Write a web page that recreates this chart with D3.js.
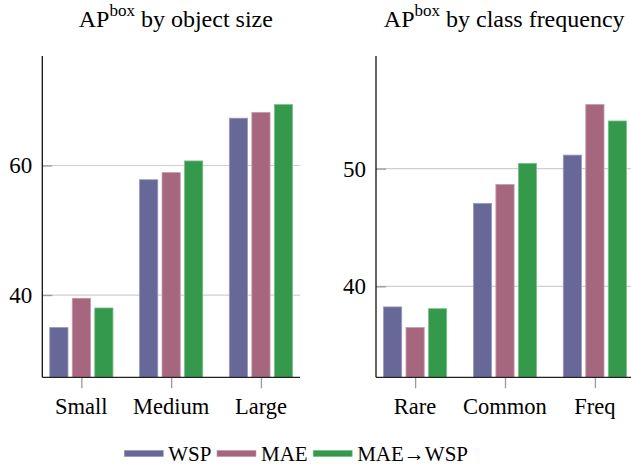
<!DOCTYPE html>
<html>
<head>
<meta charset="utf-8">
<script src="https://cdn.jsdelivr.net/npm/d3@7"></script>
<style>
  html, body { margin: 0; padding: 0; background: #fff; }
  svg { display: block; }
</style>
</head>
<body>
<script>
// ---- data ----
const seriesNames = ["WSP", "MAE", "MAE\u2192WSP"];
const seriesColors = ["#676798", "#a6677e", "#34994b"];
const seriesStroke = ["#9a9ac0", "#c89aab", "#7cc08d"];

const sizeCategories = ["Small", "Medium", "Large"];
const sizeWSP = [35.0, 57.8, 67.3];
const sizeMAE = [39.5, 58.9, 68.2];
const sizeMAE2WSP = [38.0, 60.7, 69.4];
const sizeTicks = [40, 60];

const freqCategories = ["Rare", "Common", "Freq"];
const freqWSP = [38.25, 47.05, 51.15];
const freqMAE = [36.5, 48.65, 55.45];
const freqMAE2WSP = [38.1, 50.45, 54.05];
const freqTicks = [40, 50];

const FONT = '"Liberation Serif"';
const W = 631, H = 466;
const svg = d3.select("body").append("svg").attr("width", W).attr("height", H);

function panel(opts) {
  const { left, right, top, bottom, yDomain, cats, values, ticks, titleX, subtitle } = opts;
  const g = svg.append("g");
  const x = d3.scalePoint().domain(cats).range([left, right]).padding(0.435);
  const inner = d3.scaleBand().domain(d3.range(seriesNames.length))
    .range([-31.6, 31.6]).paddingInner(0.19).paddingOuter(0);
  const y = d3.scaleLinear().domain(yDomain).range([bottom, top]);

  // grid
  g.append("g").selectAll("line").data(ticks).join("line")
    .attr("x1", left).attr("x2", right)
    .attr("y1", d => y(d)).attr("y2", d => y(d))
    .attr("stroke", "#cfcfcf").attr("stroke-width", 1.2);

  // y ticks (inside)
  const yAxis = d3.axisRight(y).tickValues(ticks).tickSize(10).tickFormat("");
  const ya = g.append("g").attr("transform", `translate(${left},0)`).call(yAxis);
  ya.select(".domain").remove();
  ya.selectAll(".tick line").attr("stroke", "#9a9a9a").attr("stroke-width", 1.3);

  // y labels
  g.append("g").selectAll("text").data(ticks).join("text")
    .attr("x", left - 10).attr("y", d => y(d) + 8)
    .attr("text-anchor", "end").style("font-size", "23px")
    .style("font-family", FONT)
    .text(d => d);

  // bars
  cats.forEach((c, ci) => {
    values.forEach((arr, si) => {
      const x0 = x(c) + inner(si);
      g.append("rect")
        .attr("x", x0).attr("width", inner.bandwidth())
        .attr("y", y(arr[ci])).attr("height", bottom - y(arr[ci]))
        .attr("fill", seriesColors[si])
        .attr("stroke", seriesStroke[si]).attr("stroke-width", 0.8);
    });
  });

  // x axis
  const xAxis = d3.axisBottom(x).tickSize(11).tickSizeOuter(0).tickFormat("");
  const xa = g.append("g").attr("transform", `translate(0,${bottom})`).call(xAxis);
  xa.select(".domain").remove();
  xa.selectAll(".tick line").attr("stroke", "#9a9a9a").attr("stroke-width", 1.3);
  g.append("line").attr("x1", left).attr("x2", right).attr("y1", bottom).attr("y2", bottom)
    .attr("stroke", "#222").attr("stroke-width", 1.3);
  g.append("line").attr("x1", left).attr("x2", left).attr("y1", top).attr("y2", bottom)
    .attr("stroke", "#111").attr("stroke-width", 1.3);

  // x labels
  g.append("g").selectAll("text").data(cats).join("text")
    .attr("x", d => x(d)).attr("y", 414.3)
    .attr("text-anchor", "middle").style("font-size", "22.5px")
    .style("font-family", FONT)
    .text(d => d);

  // title
  const t = g.append("text").attr("x", titleX).attr("y", 26.7)
    .attr("text-anchor", "middle").style("font-size", "24px").style("font-family", FONT);
  t.append("tspan").text("AP");
  t.append("tspan").style("font-size", "17px").attr("dy", -11).text("box");
  t.append("tspan").attr("dy", 11).text(" " + subtitle);
}

panel({
  left: 42.3, right: 300, top: 56, bottom: 377.3,
  yDomain: [27.3, 76.9], cats: sizeCategories,
  values: [sizeWSP, sizeMAE, sizeMAE2WSP], ticks: sizeTicks,
  titleX: 175.8, subtitle: "by object size"
});
panel({
  left: 376, right: 634, top: 56, bottom: 377.3,
  yDomain: [32.27, 59.57], cats: freqCategories,
  values: [freqWSP, freqMAE, freqMAE2WSP], ticks: freqTicks,
  titleX: 504.2, subtitle: "by class frequency"
});

// legend
const lg = svg.append("g");
let lx = 124.3;
seriesNames.forEach((name, i) => {
  lg.append("rect").attr("x", lx).attr("y", 450.4).attr("width", 39).attr("height", 6.2)
    .attr("fill", seriesColors[i]).attr("stroke", seriesStroke[i]).attr("stroke-width", 0.6);
  lx += 39 + 5;
  const t = lg.append("text").attr("x", lx).attr("y", 461.3).style("font-size", "21px")
    .style("font-family", FONT).text(name);
  lx += t.node().getComputedTextLength() + 5.5;
});
</script>
</body>
</html>
